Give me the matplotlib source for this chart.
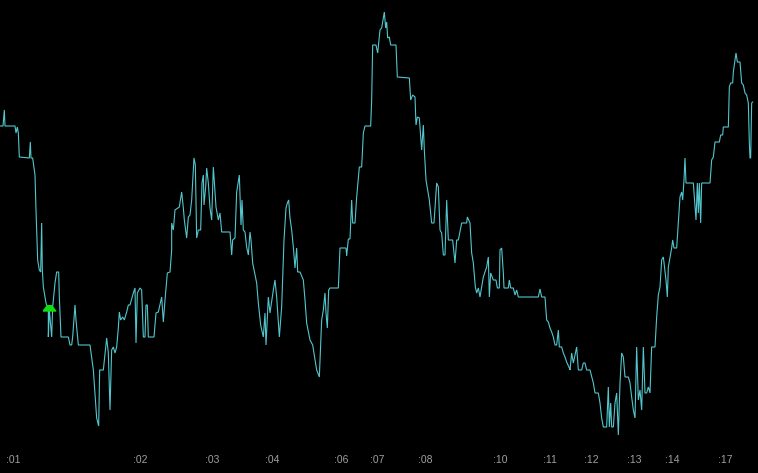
import matplotlib
matplotlib.use("Agg")
import matplotlib.pyplot as plt
import matplotlib.transforms as mtransforms

# tick number and price (points) of each quote
ticks = [0, 9, 13, 15, 45, 48, 52, 55, 58, 88, 91, 93, 98, 105, 108, 113, 118, 122, 125, 127,
         130, 138, 145, 145, 148, 155, 158, 165, 170, 176, 178, 183, 205, 210, 215, 218, 225, 228, 235, 270,
         280, 290, 296, 299, 310, 320, 325, 330, 335, 340, 345, 350, 355, 358, 362, 368, 373, 380, 385,
         390, 400, 405, 408, 412, 420, 425, 430, 435, 438, 442, 445, 462, 468, 475, 485, 490, 495, 502, 510,
         515, 515, 520, 525, 538, 545, 550, 553, 560, 565, 570, 575, 582, 586, 590, 595, 602, 606, 610, 612,
         617, 620, 625, 630, 635, 640, 645, 648, 655, 660, 665, 690, 695, 698, 705, 710, 718, 723, 726, 730,
         735, 740, 745, 750, 753, 758, 770, 775, 782, 790, 795, 798, 805, 810, 820, 825, 830, 838, 845, 852,
         858, 862, 866, 870, 875, 880, 885, 890, 893, 900, 910, 915, 920, 930, 938, 945, 950, 958, 965, 970,
         975, 978, 982, 986, 990, 1015, 1020, 1038, 1040, 1045, 1050, 1055, 1058, 1065, 1070, 1078, 1085, 1090,
         1095, 1112, 1115, 1118, 1128, 1133, 1140, 1145, 1153, 1157, 1160, 1163, 1168, 1172, 1188, 1192, 1228,
         1232, 1238, 1245, 1248, 1252, 1258, 1265, 1270, 1273, 1278, 1288, 1295, 1302, 1310, 1315, 1320, 1325,
         1330, 1335, 1340, 1345, 1358, 1365, 1370, 1375, 1385, 1400, 1402, 1410, 1415, 1420, 1426, 1430, 1435,
         1440, 1450, 1460, 1465, 1468, 1472, 1480, 1488, 1492, 1498, 1500, 1505, 1510, 1512, 1525, 1528, 1532,
         1540, 1545, 1550, 1555, 1615, 1620, 1625, 1635, 1640, 1645, 1650, 1655, 1660, 1665, 1670, 1675, 1678,
         1685, 1690, 1695, 1700, 1708, 1710, 1715, 1720, 1725, 1730, 1735, 1745, 1750, 1755, 1760, 1770, 1780,
         1785, 1795, 1800, 1805, 1810, 1820, 1825, 1828, 1832, 1835, 1840, 1845, 1850, 1855, 1860, 1865, 1870,
         1875, 1885, 1890, 1895, 1900, 1905, 1910, 1915, 1920, 1925, 1930, 1935, 1940, 1945, 1950, 1955, 1965,
         1970, 1975, 1980, 1985, 1990, 1998, 2002, 2005, 2015, 2018, 2022, 2030, 2035, 2040, 2045, 2048, 2052,
         2055, 2058, 2080, 2085, 2088, 2092, 2095, 2098, 2102, 2105, 2130, 2135, 2140, 2145, 2158, 2162, 2168,
         2170, 2185, 2188, 2192, 2198, 2200, 2205, 2208, 2212, 2220, 2225, 2230, 2235, 2240, 2245, 2248, 2250,
         2252, 2255, 2258]

prices = [347, 347, 363, 347, 347, 340, 346, 340, 316, 315, 331, 315, 315, 298, 263, 213, 203, 201, 250, 203,
          186, 170, 163, 136, 163, 136, 166, 190, 201, 201, 176, 136, 136, 128, 128, 136, 168, 153, 128, 128,
          103, 55, 47, 103, 103, 135, 120, 63, 123, 126, 120, 126, 145, 161, 153, 156, 153, 161, 168,
          168, 180, 185, 130, 180, 185, 183, 136, 136, 168, 168, 136, 136, 160, 161, 176, 151, 173, 200, 201,
          223, 250, 243, 263, 266, 281, 265, 253, 235, 256, 258, 273, 315, 308, 235, 243, 243, 290, 298, 268,
          286, 305, 290, 265, 253, 306, 281, 266, 253, 260, 241, 241, 218, 233, 235, 281, 298, 248, 273, 243,
          241, 226, 218, 241, 233, 210, 190, 170, 148, 136, 160, 128, 176, 160, 183, 193, 176, 136, 166, 233,
          265, 270, 273, 255, 243, 226, 205, 225, 201, 201, 193, 173, 150, 133, 128, 113, 103, 96, 153, 163,
          180, 160, 145, 183, 185, 185, 225, 225, 217, 234, 234, 273, 250, 250, 276, 306, 306, 340,
          347, 347, 373, 428, 428, 420, 443, 445, 461, 445, 451, 435, 436, 428, 428, 396, 395,
          373, 378, 376, 348, 356, 355, 323, 348, 323, 293, 273, 250, 250, 290, 286, 243, 240,
          218, 218, 273, 233, 233, 210, 233, 233, 250, 250, 256, 250, 220, 210, 186, 180, 185,
          176, 196, 206, 216, 176, 200, 193, 193, 185, 185, 223, 225, 200, 185, 185, 193, 185,
          185, 178, 183, 176, 176, 184, 176, 176, 153, 151, 145, 141, 136, 128, 128, 143, 126,
          126, 120, 116, 111, 105, 103, 120, 110, 118, 126, 103, 103, 110, 110, 103, 103, 90,
          80, 80, 70, 55, 46, 46, 86, 46, 70, 46, 46, 70, 80, 38, 90, 120, 116,
          96, 96, 90, 76, 63, 55, 126, 73, 83, 63, 126, 80, 80, 86, 80, 126, 126,
          156, 178, 186, 213, 216, 193, 176, 206, 225, 233, 225, 225, 250, 276, 281, 273, 293,
          315, 290, 290, 266, 253, 290, 260, 290, 250, 290, 290, 313, 316, 331, 331, 338, 338,
          346, 346, 386, 390, 390, 401, 413, 420, 411, 411, 390, 388, 380, 378, 370, 330, 315,
          315, 370, 371]

# time labels along the bottom and the tick where each sits
time_ticks = [39, 420, 636, 816, 1023, 1131, 1275, 1500, 1650, 1773, 1902, 2016, 2175]
time_labels = [":01", ":02", ":03", ":04", ":06", ":07", ":08", ":10", ":11", ":12", ":13", ":14", ":17"]

# entry signal
signal_tick = 148
signal_price = 165.5

fig = plt.figure(figsize=(7.58, 4.73), dpi=100, facecolor="black")
ax = fig.add_axes([0, 0, 1, 1])
ax.set_facecolor("black")

ax.plot(ticks, prices, color="#52c6cc", linewidth=0.8, solid_joinstyle="miter")

# flattened up-arrow used by the terminal for a buy signal
arrow = [(-1, -0.4), (1, -0.4), (0.35, 0.45), (-0.35, 0.45), (-1, -0.4)]
ax.plot([signal_tick], [signal_price], marker=arrow, markersize=9, color="#10e010",
        markeredgecolor="#10e010", linestyle="none")

ax.set_xlim(0, 2274)
ax.set_ylim(0, 473)
ax.set_axis_off()

trans = mtransforms.blended_transform_factory(ax.transData, ax.transAxes)
for t, lab in zip(time_ticks, time_labels):
    ax.text(t, 13 / 473, lab, transform=trans, ha="center", va="center",
            fontsize=7.5, color="#a0a0a0", family="Liberation Sans")

fig.savefig("out.png", dpi=100, facecolor="black")
